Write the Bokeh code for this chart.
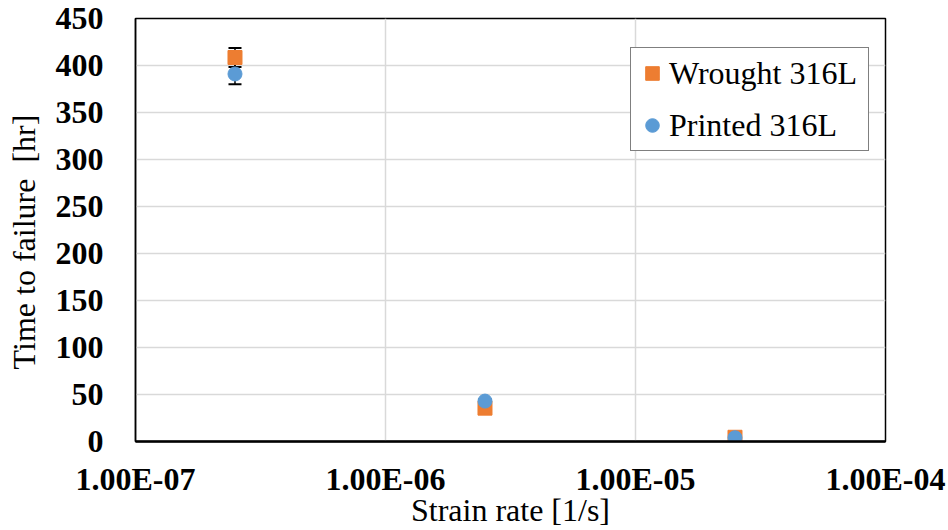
from bokeh.plotting import figure
from bokeh.models import (ColumnDataSource, Whisker, TeeHead, Legend, LegendItem,
                          FixedTicker, CustomJSTickFormatter)
from bokeh.embed import file_html
from bokeh.resources import INLINE

strain_rate = [2.5e-7, 2.5e-6, 2.5e-5]
wrought = [408.5, 35.5, 4.5]
wrought_err = [10.0, 2.0, 1.0]
printed = [391.0, 43.0, 4.0]
printed_err = [11.0, 2.0, 1.0]
x_ticks = [1e-7, 1e-6, 1e-5, 1e-4]
y_ticks = list(range(0, 451, 50))

FONT = "Liberation Serif"
FS = "32px"

p = figure(width=948, height=530, x_axis_type="log", x_range=(1e-7, 1e-4), y_range=(0, 450),
           output_backend="svg", toolbar_location=None,
           min_border_left=135, min_border_right=63, min_border_top=18, min_border_bottom=89)
p.background_fill_color = "white"
p.border_fill_color = "white"
p.outline_line_color = "black"
p.outline_line_width = 1.5

# axes
p.xaxis.ticker = FixedTicker(ticks=x_ticks, minor_ticks=[])
p.xaxis.formatter = CustomJSTickFormatter(code="""
    const s = tick.toExponential(2).toUpperCase();
    return s.replace(/E([+-])(\\d)$/, 'E$10$2');
""")
p.yaxis.ticker = FixedTicker(ticks=y_ticks, minor_ticks=[])
for ax in (p.xaxis[0], p.yaxis[0]):
    ax.major_tick_line_color = None
    ax.minor_tick_line_color = None
    ax.major_label_text_font = FONT
    ax.major_label_text_font_style = "bold"
    ax.major_label_text_font_size = FS
    ax.major_label_text_color = "black"
    ax.axis_label_text_font = FONT
    ax.axis_label_text_font_style = "normal"
    ax.axis_label_text_font_size = FS
    ax.axis_label_text_color = "black"
p.xaxis.axis_line_color = "black"
p.xaxis.axis_line_width = 2.5
p.yaxis.axis_line_color = "black"
p.yaxis.axis_line_width = 1.5
p.xaxis.major_label_standoff = 13
p.xaxis.axis_label_standoff = -8
p.yaxis.major_label_standoff = 26
p.yaxis.axis_label_standoff = 11
p.xaxis.axis_label = "Strain rate [1/s]"
p.yaxis.axis_label = "Time to failure\u00a0 [hr]\u00a0\u00a0\u00a0"

p.xgrid.grid_line_color = "#d9d9d9"
p.xgrid.grid_line_width = 1.5
p.ygrid.grid_line_color = "#d9d9d9"
p.ygrid.grid_line_width = 1.5

src_w = ColumnDataSource(dict(x=strain_rate, y=wrought,
                              lo=[v - e for v, e in zip(wrought, wrought_err)],
                              hi=[v + e for v, e in zip(wrought, wrought_err)]))
src_p = ColumnDataSource(dict(x=strain_rate, y=printed,
                              lo=[v - e for v, e in zip(printed, printed_err)],
                              hi=[v + e for v, e in zip(printed, printed_err)]))

for src in (src_w, src_p):
    w = Whisker(source=src, base="x", lower="lo", upper="hi", dimension="height",
                line_color="black", line_width=1.5,
                upper_head=TeeHead(size=13, line_color="black", line_width=2),
                lower_head=TeeHead(size=13, line_color="black", line_width=2))
    w.level = "underlay"
    p.add_layout(w)

r_w = p.scatter("x", "y", source=src_w, marker="square", size=14,
                fill_color="#ED7D31", line_color="#ED7D31")
r_p = p.scatter("x", "y", source=src_p, marker="circle", size=14,
                fill_color="#5B9BD5", line_color="#5B9BD5")

legend = Legend(items=[LegendItem(label="Wrought 316L", renderers=[r_w]),
                       LegendItem(label="Printed 316L", renderers=[r_p])],
                location=(495, 290))
legend.label_text_font = FONT
legend.label_text_font_size = FS
legend.label_text_color = "black"
legend.border_line_color = "black"
legend.border_line_width = 1.5
legend.background_fill_alpha = 1.0
legend.padding = 4
legend.spacing = 10
legend.label_height = 42
legend.glyph_height = 42
legend.glyph_width = 34
legend.label_width = 195
legend.label_standoff = 0
legend.margin = 0
p.add_layout(legend, "center")

open("out.html", "w").write(file_html(p, INLINE))
